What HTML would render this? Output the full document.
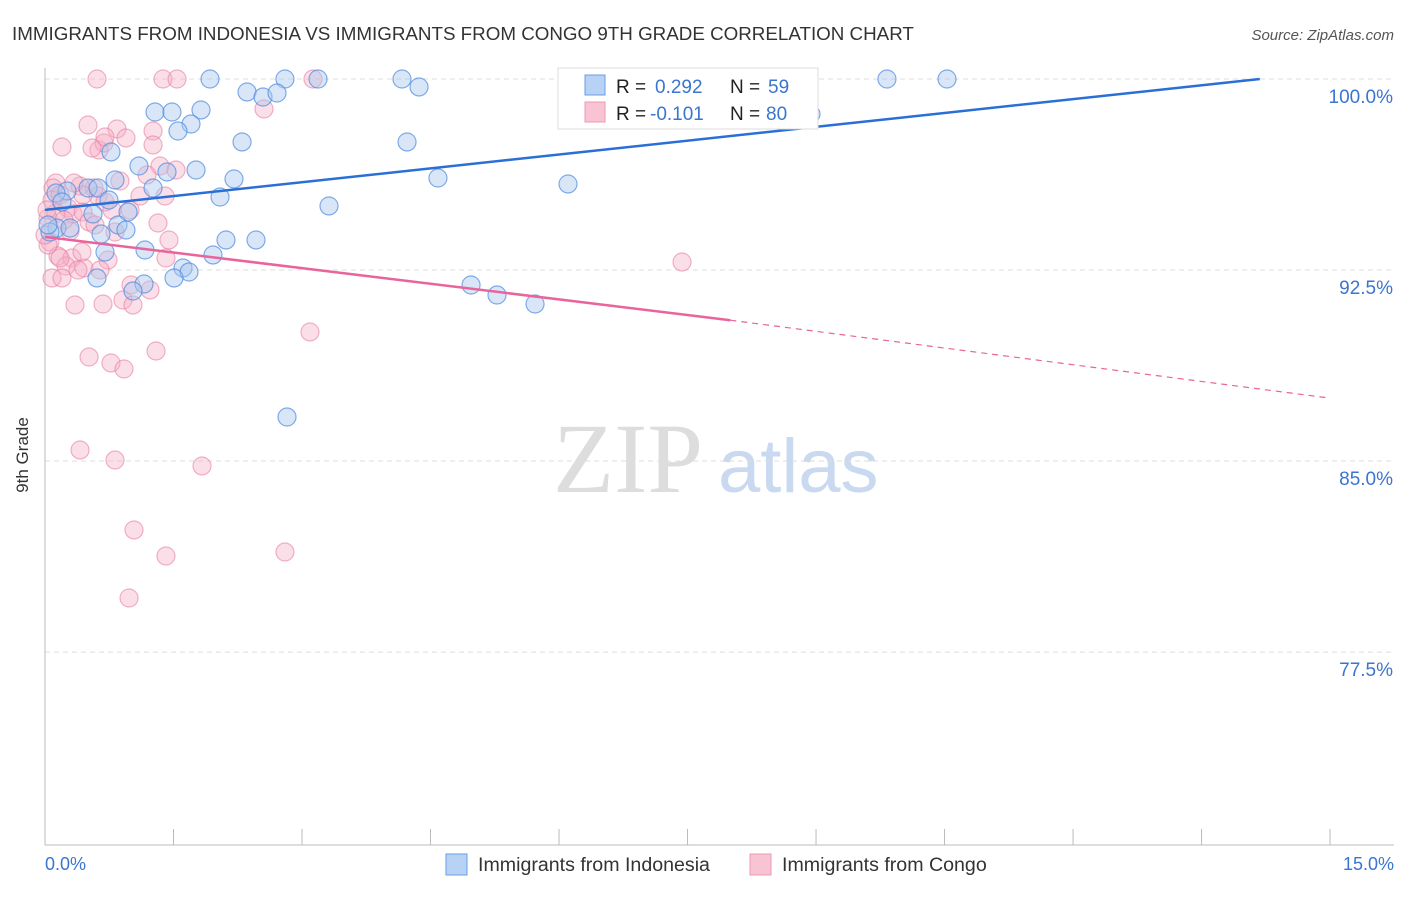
<!DOCTYPE html>
<html><head><meta charset="utf-8"><style>
body{margin:0;background:#fff;font-family:"Liberation Sans",sans-serif}
</style></head><body>
<svg id="c" width="1406" height="892" xmlns="http://www.w3.org/2000/svg" style="font-family:'Liberation Sans',sans-serif">
<text x="12" y="40" font-size="18.8" fill="#333">IMMIGRANTS FROM INDONESIA VS IMMIGRANTS FROM CONGO 9TH GRADE CORRELATION CHART</text>
<text x="1394" y="40" font-size="15" fill="#555" font-style="italic" text-anchor="end">Source: ZipAtlas.com</text>
<text x="28" y="455" font-size="17" fill="#333" transform="rotate(-90 28 455)" text-anchor="middle">9th Grade</text>
<text x="553" y="492" font-size="100" fill="#ddd" font-family="Liberation Serif">ZIP</text>
<text x="718" y="492" font-size="76" fill="#c8d9f0">atlas</text>
<g id="grid"></g><g id="pts"></g><g id="lines"></g>
<g>
<rect x="558" y="68" width="260" height="61" fill="#fff" stroke="#ddd"/>
<rect x="585" y="75" width="20" height="20" fill="#b7d2f5" stroke="#6a9de3"/>
<rect x="585" y="102" width="20" height="20" fill="#f8c4d4" stroke="#eb9ab5"/>
<text x="616" y="93" font-size="19" fill="#222">R = </text><text x="655" y="93" font-size="19" fill="#3a75d0">0.292</text>
<text x="730" y="93" font-size="19" fill="#222">N = </text><text x="768" y="93" font-size="19" fill="#3a75d0">59</text>
<text x="616" y="120" font-size="19" fill="#222">R = </text><text x="650" y="120" font-size="19" fill="#3a75d0">-0.101</text>
<text x="730" y="120" font-size="19" fill="#222">N = </text><text x="766" y="120" font-size="19" fill="#3a75d0">80</text>
</g>
<g>
<rect x="446" y="854" width="21" height="21" fill="#b7d2f5" stroke="#6a9de3"/>
<text x="478" y="871" font-size="19.6" fill="#333">Immigrants from Indonesia</text>
<rect x="750" y="854" width="21" height="21" fill="#f8c4d4" stroke="#eb9ab5"/>
<text x="782" y="871" font-size="19.6" fill="#333">Immigrants from Congo</text>
</g>
<text x="45" y="870" font-size="18" fill="#3a75d0">0.0%</text>
<text x="1394" y="870" font-size="18" fill="#3a75d0" text-anchor="end">15.0%</text>
</svg>
<script>
const yTicks=[100,92.5,85,77.5];
const yTickLabels=["100.0%","92.5%","85.0%","77.5%"];
const xTicks=[0,1.5,3,4.5,6,7.5,9,10.5,12,13.5,15];
const bluePx=[[210,79],[285,79],[318,79],[402,79],[887,79],[947,79],[247,92],[263,97],[277,93],[419,87],[155,112],[172,112],[201,110],[191,124],[178,131],[242,142],[407,142],[111,152],[139,166],[167,172],[196,170],[234,179],[438,178],[568,184],[115,180],[153,188],[220,197],[88,188],[67,191],[56,193],[98,188],[109,200],[329,206],[128,212],[93,214],[62,202],[118,225],[126,230],[57,228],[50,232],[48,225],[101,234],[226,240],[256,240],[145,250],[105,252],[213,255],[183,268],[189,272],[174,278],[144,284],[133,291],[97,278],[471,285],[497,295],[535,304],[287,417],[811,114],[70,228]];
const pinkPx=[[97,79],[163,79],[177,79],[313,79],[264,109],[88,125],[117,129],[153,131],[62,147],[99,150],[126,138],[104,143],[153,145],[160,166],[176,170],[120,181],[56,183],[53,188],[52,200],[60,195],[68,208],[73,214],[83,212],[94,188],[98,196],[105,202],[130,210],[89,222],[70,231],[48,218],[50,242],[58,256],[72,258],[52,278],[75,305],[84,268],[108,260],[82,252],[66,266],[103,304],[123,300],[133,305],[131,285],[158,223],[169,240],[166,258],[89,357],[111,363],[124,369],[156,351],[310,332],[80,450],[115,460],[202,466],[134,530],[166,556],[285,552],[129,598],[682,262],[48,245],[56,213],[64,220],[80,186],[105,137],[45,235],[47,210],[115,232],[92,148],[165,196],[83,195],[95,225],[78,270],[62,278],[147,175],[74,183],[140,196],[100,270],[60,258],[112,210],[150,290]];
const blueX=bluePx.map(p=>+((p[0]-45)/85.67).toFixed(3)), blueY=bluePx.map(p=>+(100-(p[1]-79)/25.47).toFixed(3));
const pinkX=pinkPx.map(p=>+((p[0]-45)/85.67).toFixed(3)), pinkY=pinkPx.map(p=>+(100-(p[1]-79)/25.47).toFixed(3));
const blueTrend=[[0,94.86],[14.18,100]];
const pinkTrend=[[0,93.8],[8.0,90.53],[15,87.47]];
const X=v=>45+v*85.67, Y=v=>79+(100-v)*25.47;
const NS="http://www.w3.org/2000/svg";
function mk(t,a,p){const e=document.createElementNS(NS,t);for(const k in a)e.setAttribute(k,a[k]);p.appendChild(e);return e;}
const grid=document.getElementById('grid');
yTicks.forEach((v,i)=>{
 const l=mk('line',{x1:45,x2:1394,y1:Y(v),y2:Y(v),stroke:'#ddd','stroke-dasharray':'5,4'},grid);
 
 
 const t=mk('text',{x:1393,y:Y(v)+24,'font-size':19,fill:'#3a75d0','text-anchor':'end'},grid);
 t.textContent=yTickLabels[i];
 
 
});
const ax=mk('line',{x1:45,x2:45,y1:68,y2:845,stroke:'#bbb'},grid);


const bx=mk('line',{x1:45,x2:1394,y1:845,y2:845,stroke:'#bbb'},grid);


xTicks.forEach(v=>{
 const t=mk('line',{x1:X(v),x2:X(v),y1:829,y2:845,stroke:'#bbb'},grid);
 
 
});
const pts=document.getElementById('pts');
pinkX.forEach((x,i)=>{
 const c=mk('circle',{cx:X(x),cy:Y(pinkY[i]),r:9,fill:'#f5b0c5','fill-opacity':0.4,stroke:'#e880a2','stroke-opacity':0.6,'stroke-width':1.2},pts);
 
 
});
blueX.forEach((x,i)=>{
 const c=mk('circle',{cx:X(x),cy:Y(blueY[i]),r:9,fill:'#a8c8f0','fill-opacity':0.45,stroke:'#4f8ae0','stroke-opacity':0.7,'stroke-width':1.2},pts);
 
 
});
const lines=document.getElementById('lines');
const b=mk('line',{x1:X(blueTrend[0][0]),y1:Y(blueTrend[0][1]),x2:X(blueTrend[1][0]),y2:Y(blueTrend[1][1]),stroke:'#2a6fd6','stroke-width':2.5},lines);


const p1=mk('line',{x1:X(pinkTrend[0][0]),y1:Y(pinkTrend[0][1]),x2:X(pinkTrend[1][0]),y2:Y(pinkTrend[1][1]),stroke:'#e8649a','stroke-width':2.5},lines);


const p2=mk('line',{x1:X(pinkTrend[1][0]),y1:Y(pinkTrend[1][1]),x2:X(pinkTrend[2][0]),y2:Y(pinkTrend[2][1]),stroke:'#e8649a','stroke-width':1.2,'stroke-dasharray':'6,5'},lines);


</script>
</body></html>
